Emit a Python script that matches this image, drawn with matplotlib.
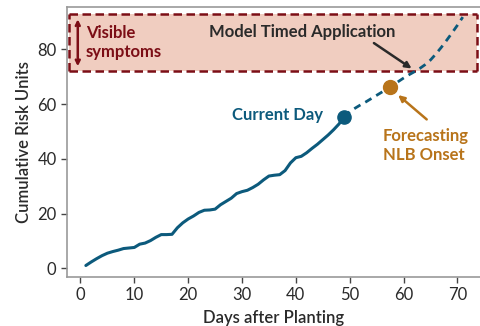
import matplotlib
matplotlib.use("Agg")
import matplotlib.pyplot as plt
from matplotlib.patches import Rectangle

plt.rcParams['font.family'] = ['Lato', 'DejaVu Sans']

# Observed cumulative risk, days 1-49
obs_days = list(range(1, 50))
obs_risk = [1.0, 2.3, 3.5, 4.6, 5.5, 6.1, 6.6, 7.2, 7.4, 7.6,
            8.8, 9.2, 10.1, 11.3, 12.3, 12.3, 12.4, 14.8, 16.6, 18.0,
            19.1, 20.4, 21.2, 21.3, 21.6, 23.2, 24.4, 25.6, 27.3, 28.0,
            28.5, 29.5, 30.7, 32.3, 33.7, 34.0, 34.2, 35.7, 38.5, 40.4,
            40.9, 42.2, 43.8, 45.3, 47.0, 48.7, 50.6, 52.7, 55.4]

# Forecast cumulative risk, days 49-71
fc_days = list(range(49, 72))
fc_risk = [55.4, 57.2, 58.5, 59.7, 60.8, 62.0, 63.2, 64.4, 65.6, 66.9,
           68.2, 69.5, 70.7, 71.8, 73.0, 74.4, 76.1, 78.3, 80.7, 83.3,
           86.0, 88.8, 91.8]

current_day, current_risk = 49, 55.4
onset_day, onset_risk = 57.5, 66.2
symptom_low, symptom_high = 72.0, 92.8

x_ticks = [0, 10, 20, 30, 40, 50, 60, 70]
y_ticks = [0, 20, 40, 60, 80]

BLUE = '#0c5a7c'
ORANGE = '#b8741a'
DARKRED = '#7c0e16'
BAND = '#f0cdc0'
TEXT = '#2a2a2a'
GREY = '#9a9a9a'

fig = plt.figure(figsize=(4.8, 3.26), dpi=100)
ax = fig.add_axes([0.1396, 0.1503, 0.8604, 0.8267])
xmin, xmax = -2.5, 74.2
ax.set_xlim(xmin, xmax)
ax.set_ylim(-3.2, 95.3)

# Visible symptoms band
ax.add_patch(Rectangle((xmin + 0.3, symptom_low), (xmax - xmin) - 0.9,
                       symptom_high - symptom_low, facecolor=BAND,
                       edgecolor='none', zorder=1))
for yy in (symptom_low, symptom_high):
    ax.plot([xmin + 0.3, xmax - 0.6], [yy, yy], color=DARKRED, lw=1.8,
            linestyle=(0, (3.4, 1.8)), zorder=2)
for xx in (xmin + 0.3, xmax - 0.6):
    ax.plot([xx, xx], [symptom_low, symptom_high], color=DARKRED, lw=1.8,
            linestyle=(0, (3.4, 1.8)), zorder=2)

ax.annotate('', xy=(-0.5, 91.0), xytext=(-0.5, 73.8),
            arrowprops=dict(arrowstyle='<->', color=DARKRED, lw=1.8,
                            mutation_scale=7, shrinkA=0, shrinkB=0), zorder=3)
ax.text(1.0, 82.5, 'Visible\nsymptoms', color=DARKRED, fontsize=12,
        fontweight='bold', ha='left', va='center', linespacing=1.25, zorder=3)

# Risk curves
ax.plot(obs_days, obs_risk, color=BLUE, lw=2.2, solid_capstyle='round',
        solid_joinstyle='round', zorder=4)
ax.plot(fc_days, fc_risk, color=BLUE, lw=2.0, linestyle=(0, (2.6, 2.0)), zorder=4)
ax.plot([current_day], [current_risk], 'o', color=BLUE, markersize=9.5, zorder=5)
ax.plot([onset_day], [onset_risk], 'o', color=ORANGE, markersize=10, zorder=5)

ax.text(45.0, 56.0, 'Current Day', color=BLUE, fontsize=12,
        fontweight='bold', ha='right', va='center', zorder=6)
ax.text(23.9, 86.2, 'Model Timed Application', color=TEXT, fontsize=12,
        fontweight='bold', ha='left', va='center', zorder=6)
ax.annotate('', xy=(61.5, 73.0), xytext=(54.5, 82.3),
            arrowprops=dict(arrowstyle='-|>', color=TEXT, lw=1.8,
                            mutation_scale=9, shrinkA=0, shrinkB=0), zorder=6)
ax.text(56.1, 44.8, 'Forecasting\nNLB Onset', color=ORANGE, fontsize=12,
        fontweight='bold', ha='left', va='center', linespacing=1.25, zorder=6)
ax.annotate('', xy=(59.0, 63.3), xytext=(64.3, 54.4),
            arrowprops=dict(arrowstyle='-|>', color=ORANGE, lw=1.8,
                            mutation_scale=9, shrinkA=0, shrinkB=0), zorder=6)

# Axes styling
ax.set_xticks(x_ticks)
ax.set_yticks(y_ticks)
ax.tick_params(colors=TEXT, labelsize=12, length=4, width=1, color='#444444')
for side in ('left', 'bottom', 'top'):
    ax.spines[side].set_color(GREY)
    ax.spines[side].set_linewidth(1.2)
ax.spines['right'].set_visible(False)
ax.set_xlabel('Days after Planting', fontsize=12, color=TEXT,
              fontweight='semibold', labelpad=5)
ax.set_ylabel('Cumulative Risk Units', fontsize=12, color=TEXT,
              fontweight='semibold', labelpad=4)

fig.savefig('out.png', dpi=100)
